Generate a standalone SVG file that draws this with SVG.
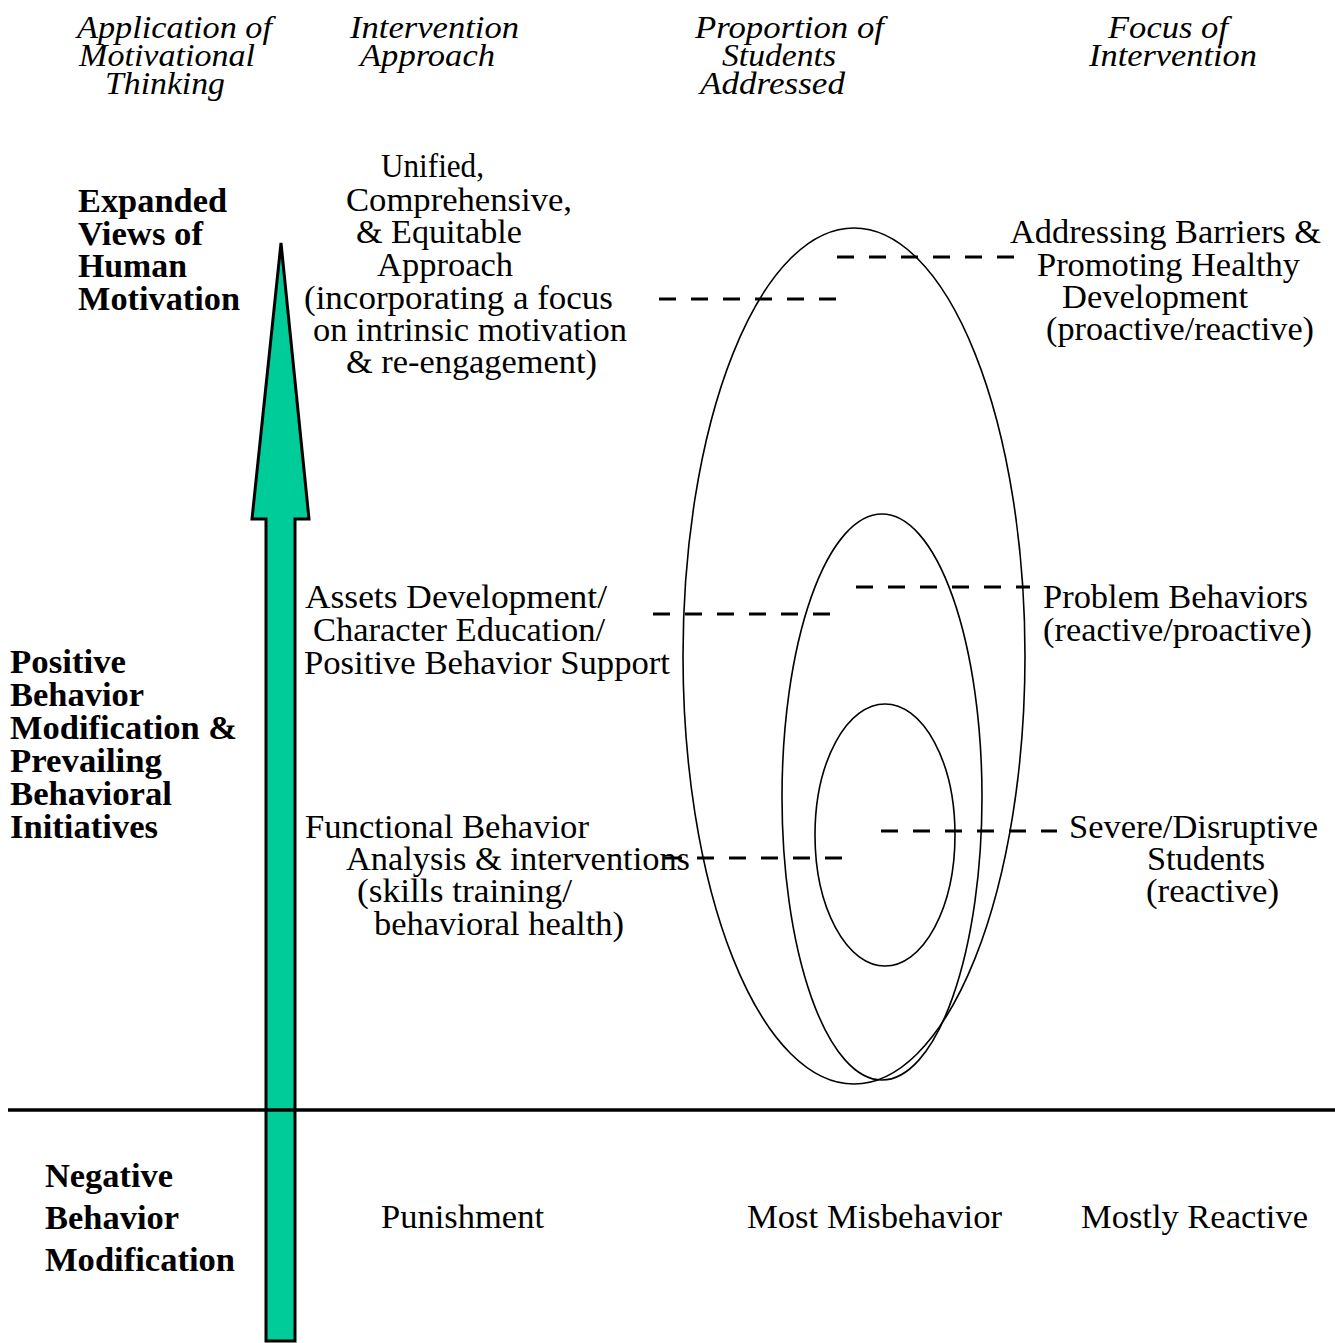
<svg xmlns="http://www.w3.org/2000/svg" width="1335" height="1343" viewBox="0 0 1335 1343">
<style>
.dash{stroke:#000;stroke-width:3;stroke-dasharray:17 15;fill:none}
.ell{fill:none;stroke:#000;stroke-width:1.6}
</style>
<rect width="1335" height="1343" fill="#fff"/>
<g id="headers">
<text x="77" y="38" font-family="Liberation Serif" font-style="italic" font-size="31" textLength="195" lengthAdjust="spacingAndGlyphs">Application of</text>
<text x="79" y="66" font-family="Liberation Serif" font-style="italic" font-size="31" textLength="176" lengthAdjust="spacingAndGlyphs">Motivational</text>
<text x="105" y="94" font-family="Liberation Serif" font-style="italic" font-size="31" textLength="120" lengthAdjust="spacingAndGlyphs">Thinking</text>
<text x="350" y="38" font-family="Liberation Serif" font-style="italic" font-size="31" textLength="169" lengthAdjust="spacingAndGlyphs">Intervention</text>
<text x="360" y="66" font-family="Liberation Serif" font-style="italic" font-size="31" textLength="135" lengthAdjust="spacingAndGlyphs">Approach</text>
<text x="695" y="38" font-family="Liberation Serif" font-style="italic" font-size="31" textLength="189" lengthAdjust="spacingAndGlyphs">Proportion of</text>
<text x="722" y="66" font-family="Liberation Serif" font-style="italic" font-size="31" textLength="114" lengthAdjust="spacingAndGlyphs">Students</text>
<text x="700" y="94" font-family="Liberation Serif" font-style="italic" font-size="31" textLength="145" lengthAdjust="spacingAndGlyphs">Addressed</text>
<text x="1108" y="38" font-family="Liberation Serif" font-style="italic" font-size="31" textLength="120" lengthAdjust="spacingAndGlyphs">Focus of</text>
<text x="1089" y="66" font-family="Liberation Serif" font-style="italic" font-size="31" textLength="168" lengthAdjust="spacingAndGlyphs">Intervention</text>
</g>
<g id="arrow">
<polygon points="281,243 309,519 295,519 295,1341 266,1341 266,519 252,519" fill="#00CC99" stroke="#000" stroke-width="3" stroke-linejoin="miter"/>
</g>
<g id="baseline">
<line x1="8" y1="1110" x2="1335" y2="1110" stroke="#000" stroke-width="3.5"/>
</g>
<g id="ellipses">
<ellipse class="ell" cx="854" cy="656" rx="171" ry="428"/>
<ellipse class="ell" cx="882" cy="797" rx="100" ry="283"/>
<ellipse class="ell" cx="885" cy="835" rx="70" ry="131"/>
</g>
<g id="connectors">
<line class="dash" x1="837" y1="257" x2="1028" y2="257"/>
<line class="dash" x1="659" y1="299" x2="850" y2="299"/>
<line class="dash" x1="856" y1="587" x2="1030" y2="587"/>
<line class="dash" x1="653" y1="614" x2="845" y2="614"/>
<line class="dash" x1="881" y1="831" x2="1057" y2="831"/>
<line class="dash" x1="665" y1="858" x2="857" y2="858"/>
</g>
<g id="label-expanded">
<text x="78" y="212" font-family="Liberation Serif" font-weight="bold" font-size="34" textLength="149" lengthAdjust="spacingAndGlyphs">Expanded</text>
<text x="78" y="245" font-family="Liberation Serif" font-weight="bold" font-size="34" textLength="125" lengthAdjust="spacingAndGlyphs">Views of</text>
<text x="78" y="277" font-family="Liberation Serif" font-weight="bold" font-size="34" textLength="109" lengthAdjust="spacingAndGlyphs">Human</text>
<text x="78" y="310" font-family="Liberation Serif" font-weight="bold" font-size="34" textLength="162" lengthAdjust="spacingAndGlyphs">Motivation</text>
</g>
<g id="label-positive">
<text x="10" y="673" font-family="Liberation Serif" font-weight="bold" font-size="34" textLength="116" lengthAdjust="spacingAndGlyphs">Positive</text>
<text x="10" y="706" font-family="Liberation Serif" font-weight="bold" font-size="34" textLength="134" lengthAdjust="spacingAndGlyphs">Behavior</text>
<text x="10" y="739" font-family="Liberation Serif" font-weight="bold" font-size="34" textLength="227" lengthAdjust="spacingAndGlyphs">Modification &amp;</text>
<text x="10" y="772" font-family="Liberation Serif" font-weight="bold" font-size="34" textLength="152" lengthAdjust="spacingAndGlyphs">Prevailing</text>
<text x="10" y="805" font-family="Liberation Serif" font-weight="bold" font-size="34" textLength="162" lengthAdjust="spacingAndGlyphs">Behavioral</text>
<text x="10" y="838" font-family="Liberation Serif" font-weight="bold" font-size="34" textLength="148" lengthAdjust="spacingAndGlyphs">Initiatives</text>
</g>
<g id="label-negative">
<text x="45" y="1187" font-family="Liberation Serif" font-weight="bold" font-size="34" textLength="128" lengthAdjust="spacingAndGlyphs">Negative</text>
<text x="45" y="1229" font-family="Liberation Serif" font-weight="bold" font-size="34" textLength="134" lengthAdjust="spacingAndGlyphs">Behavior</text>
<text x="45" y="1271" font-family="Liberation Serif" font-weight="bold" font-size="34" textLength="190" lengthAdjust="spacingAndGlyphs">Modification</text>
</g>
<g id="approach-unified">
<text x="381" y="177" font-family="Liberation Serif" font-size="34" textLength="103" lengthAdjust="spacingAndGlyphs">Unified,</text>
<text x="346" y="211" font-family="Liberation Serif" font-size="34" textLength="226" lengthAdjust="spacingAndGlyphs">Comprehensive,</text>
<text x="356" y="243" font-family="Liberation Serif" font-size="34" textLength="166" lengthAdjust="spacingAndGlyphs">&amp; Equitable</text>
<text x="377" y="276" font-family="Liberation Serif" font-size="34" textLength="136" lengthAdjust="spacingAndGlyphs">Approach</text>
<text x="304" y="309" font-family="Liberation Serif" font-size="34" textLength="309" lengthAdjust="spacingAndGlyphs">(incorporating a focus</text>
<text x="313" y="341" font-family="Liberation Serif" font-size="34" textLength="314" lengthAdjust="spacingAndGlyphs">on intrinsic motivation</text>
<text x="346" y="373" font-family="Liberation Serif" font-size="34" textLength="251" lengthAdjust="spacingAndGlyphs">&amp; re-engagement)</text>
</g>
<g id="approach-assets">
<text x="305" y="608" font-family="Liberation Serif" font-size="34" textLength="302" lengthAdjust="spacingAndGlyphs">Assets Development/</text>
<text x="313" y="641" font-family="Liberation Serif" font-size="34" textLength="292" lengthAdjust="spacingAndGlyphs">Character Education/</text>
<text x="304" y="674" font-family="Liberation Serif" font-size="34" textLength="366" lengthAdjust="spacingAndGlyphs">Positive Behavior Support</text>
</g>
<g id="approach-functional">
<text x="305" y="838" font-family="Liberation Serif" font-size="34" textLength="284" lengthAdjust="spacingAndGlyphs">Functional Behavior</text>
<text x="346" y="870" font-family="Liberation Serif" font-size="34" textLength="344" lengthAdjust="spacingAndGlyphs">Analysis &amp; interventions</text>
<text x="357" y="902" font-family="Liberation Serif" font-size="34" textLength="215" lengthAdjust="spacingAndGlyphs">(skills training/</text>
<text x="374" y="935" font-family="Liberation Serif" font-size="34" textLength="250" lengthAdjust="spacingAndGlyphs">behavioral health)</text>
</g>
<g id="focus-barriers">
<text x="1010" y="243" font-family="Liberation Serif" font-size="34" textLength="311" lengthAdjust="spacingAndGlyphs">Addressing Barriers &amp;</text>
<text x="1037" y="276" font-family="Liberation Serif" font-size="34" textLength="263" lengthAdjust="spacingAndGlyphs">Promoting Healthy</text>
<text x="1062" y="308" font-family="Liberation Serif" font-size="34" textLength="186" lengthAdjust="spacingAndGlyphs">Development</text>
<text x="1046" y="340" font-family="Liberation Serif" font-size="34" textLength="268" lengthAdjust="spacingAndGlyphs">(proactive/reactive)</text>
</g>
<g id="focus-problem">
<text x="1043" y="608" font-family="Liberation Serif" font-size="34" textLength="265" lengthAdjust="spacingAndGlyphs">Problem Behaviors</text>
<text x="1043" y="641" font-family="Liberation Serif" font-size="34" textLength="269" lengthAdjust="spacingAndGlyphs">(reactive/proactive)</text>
</g>
<g id="focus-severe">
<text x="1069" y="838" font-family="Liberation Serif" font-size="34" textLength="249" lengthAdjust="spacingAndGlyphs">Severe/Disruptive</text>
<text x="1147" y="870" font-family="Liberation Serif" font-size="34" textLength="118" lengthAdjust="spacingAndGlyphs">Students</text>
<text x="1146" y="902" font-family="Liberation Serif" font-size="34" textLength="133" lengthAdjust="spacingAndGlyphs">(reactive)</text>
</g>
<g id="bottom-row">
<text x="381" y="1228" font-family="Liberation Serif" font-size="34" textLength="163" lengthAdjust="spacingAndGlyphs">Punishment</text>
<text x="747" y="1228" font-family="Liberation Serif" font-size="34" textLength="255" lengthAdjust="spacingAndGlyphs">Most Misbehavior</text>
<text x="1081" y="1228" font-family="Liberation Serif" font-size="34" textLength="227" lengthAdjust="spacingAndGlyphs">Mostly Reactive</text>
</g>
</svg>
